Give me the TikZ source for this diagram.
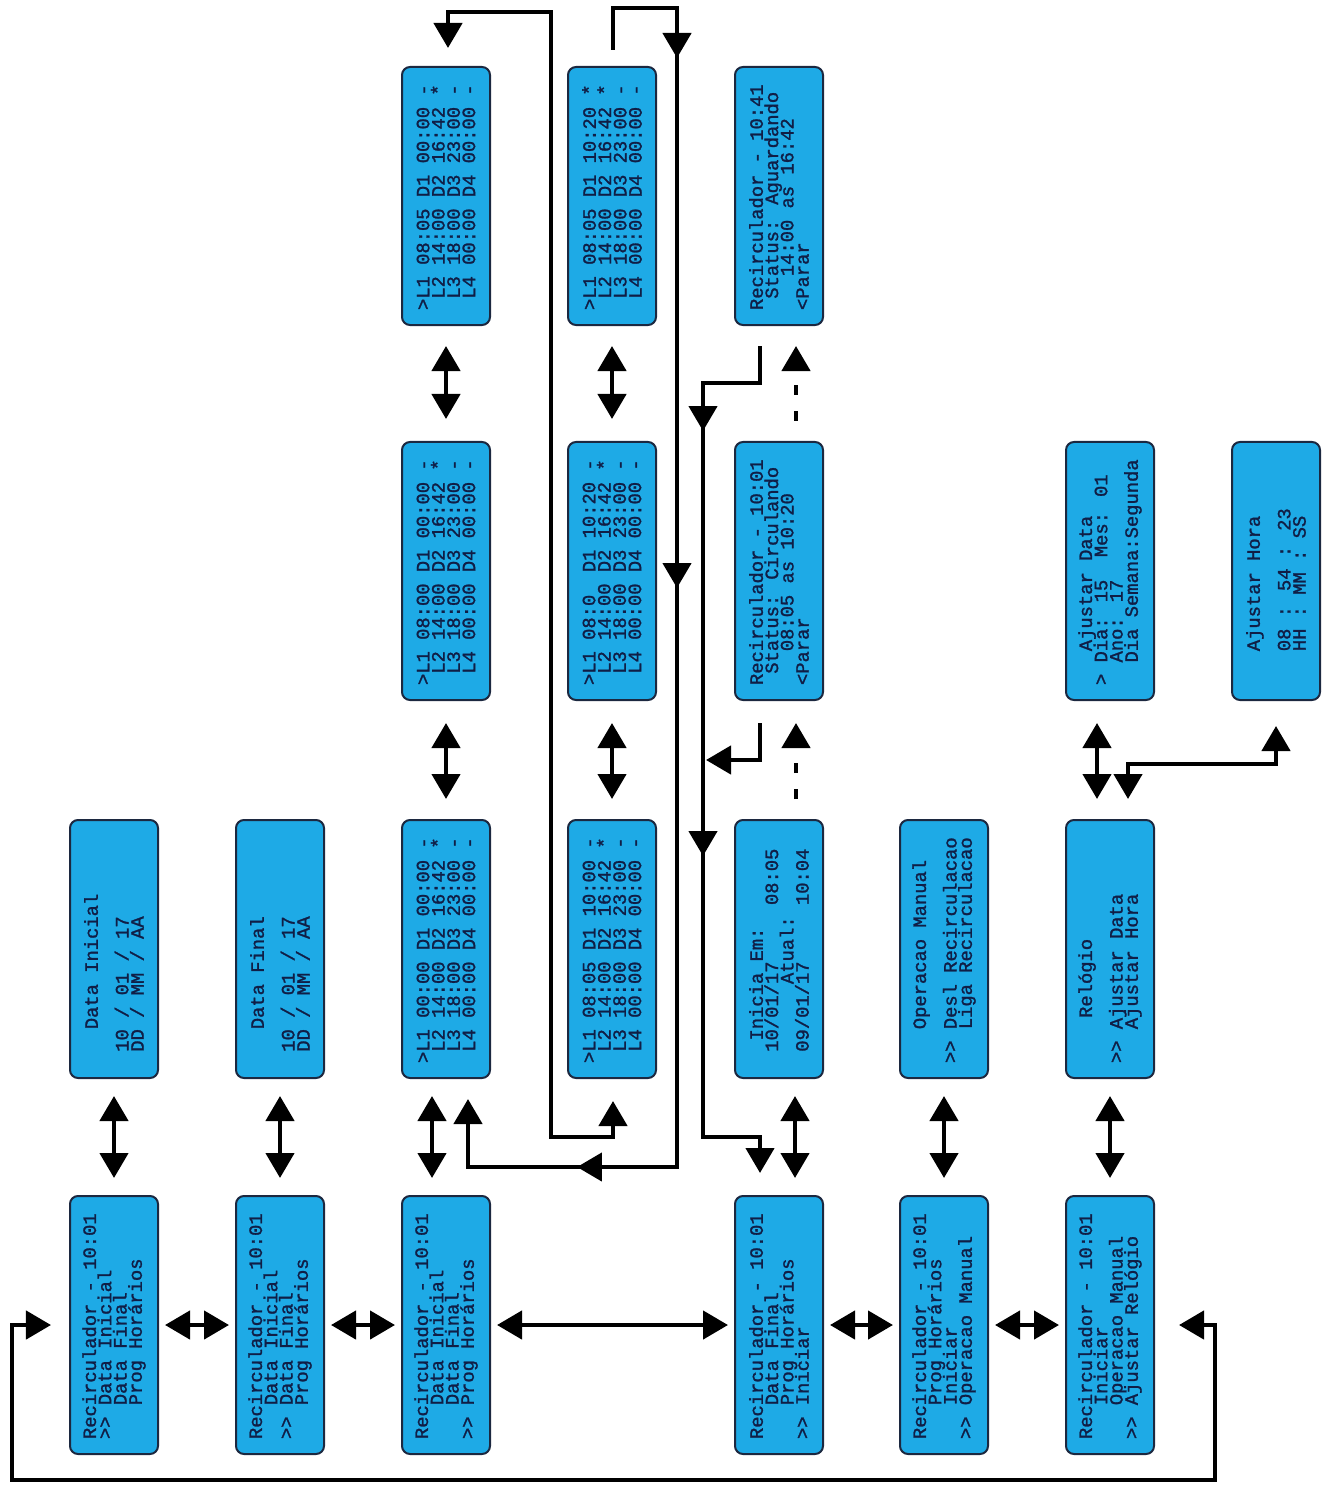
\documentclass[tikz,border=0pt]{standalone}
\usepackage{fontspec}
\usepackage{graphicx}
\usetikzlibrary{arrows.meta}
\usetikzlibrary{calc}
\usetikzlibrary{decorations.markings}

\newfontfamily\lcdfont[FakeBold=1.4]{Liberation Mono}
\definecolor{lcdfill}{RGB}{30,170,230}
\definecolor{lcdedge}{RGB}{28,40,64}
\definecolor{lcdink}{RGB}{16,30,70}
\newcommand{\lcdtext}[1]{\rotatebox{90}{\parbox{45.6mm}{\raggedright\lineskiplimit=-\maxdimen #1}}}
\tikzset{tri/.tip={Triangle[length=5mm,width=5.6mm]}}

\begin{document}
\begin{tikzpicture}[x=0.2mm, y=-0.2mm,
        lcd/.style={draw=lcdedge, fill=lcdfill, line width=0.4mm, rounded corners=1.6mm,
            minimum width=17.6mm, minimum height=51.6mm, inner sep=0pt, text=lcdink,
            font=\lcdfont\fontsize{10.7pt}{8.7pt}\selectfont},
        link/.style={line width=0.9mm, tri-tri},
        flow/.style={line width=0.9mm, -tri},
        hint/.style={flow, dash pattern=on 2mm off 3.2mm}]
    \useasboundingbox (0,0) rectangle (1329,1489);

    \node[lcd] (a1) at (114,1325) {\lcdtext{Recirculador - 10:01\\>> Data Inicial\\~~~Data Final\\~~~Prog Horários}};
    \node[lcd] (a2) at (280,1325) {\lcdtext{Recirculador - 10:01\\~~~Data Inicial\\>> Data Final\\~~~Prog Horários}};
    \node[lcd] (a3) at (446,1325) {\lcdtext{Recirculador - 10:01\\~~~Data Inicial\\~~~Data Final\\>> Prog Horários}};
    \node[lcd] (a5) at (779,1325) {\lcdtext{Recirculador - 10:01\\~~~Data Final\\~~~Prog Horários\\>> Iniciar}};
    \node[lcd] (a6) at (944,1325) {\lcdtext{Recirculador - 10:01\\~~~Prog Horários\\~~~Iniciar\\>> Operacao Manual}};
    \node[lcd] (a7) at (1110,1325) {\lcdtext{Recirculador - 10:01\\~~~Iniciar\\~~~Operacao Manual\\>> Ajustar Relógio}};

    \node[lcd] (b1) at (114,949) {\lcdtext{~~~Data Inicial\\~\\~10 / 01 / 17\\~DD / MM / AA}};
    \node[lcd] (b2) at (280,949) {\lcdtext{~~~Data Final\\~\\~10 / 01 / 17\\~DD / MM / AA}};
    \node[lcd] (b3) at (446,949) {\lcdtext{>L1 00:00 D1 00:00 -\\~L2 14:00 D2 16:42 *\\~L3 18:00 D3 23:00 -\\~L4 00:00 D4 00:00 -}};
    \node[lcd] (b4) at (612,949) {\lcdtext{>L1 08:05 D1 10:00 -\\~L2 14:00 D2 16:42 *\\~L3 18:00 D3 23:00 -\\~L4 00:00 D4 00:00 -}};
    \node[lcd] (b5) at (779,949) {\lcdtext{~~Inicia Em:\\~10/01/17~~~~~08:05\\~~~~~~~Atual:\\~09/01/17~~~~~10:04}};
    \node[lcd] (b6) at (944,949) {\lcdtext{~~~Operacao Manual\\~\\>> Desl Recirculacao\\~~~Liga Recirculacao}};
    \node[lcd] (b7) at (1110,949) {\lcdtext{~~~~Relógio\\~\\>> Ajustar Data\\~~~Ajustar Hora}};

    \node[lcd] (c3) at (446,571) {\lcdtext{>L1 08:00 D1 00:00 -\\~L2 14:00 D2 16:42 *\\~L3 18:00 D3 23:00 -\\~L4 00:00 D4 00:00 -}};
    \node[lcd] (c4) at (612,571) {\lcdtext{>L1 08:0~~D1 10:20 -\\~L2 14:00 D2 16:42 *\\~L3 18:00 D3 23:00 -\\~L4 00:00 D4 00:00 -}};
    \node[lcd] (c5) at (779,571) {\lcdtext{Recirculador - 10:01\\~Status: Circulando\\~~~08:05 as 10:20\\<Parar}};
    \node[lcd] (c7) at (1110,571) {\lcdtext{~~~Ajustar Data\\> Dia: 15~~Mes: 01\\~~Ano: 17\\~~Dia Semana:Segunda}};
    \node[lcd] (c8) at (1276,571) {\lcdtext{~~~Ajustar Hora\\~\\~~~08 : 54 : 23\\~~~HH : MM : SS}};

    \node[lcd] (d3) at (446,196) {\lcdtext{>L1 08:05 D1 00:00 -\\~L2 14:00 D2 16:42 *\\~L3 18:00 D3 23:00 -\\~L4 00:00 D4 00:00 -}};
    \node[lcd] (d4) at (612,196) {\lcdtext{>L1 08:05 D1 10:20 *\\~L2 14:00 D2 16:42 *\\~L3 18:00 D3 23:00 -\\~L4 00:00 D4 00:00 -}};
    \node[lcd] (d5) at (779,196) {\lcdtext{Recirculador - 10:41\\~Status: Aguardando\\~~~14:00 as 16:42\\<Parar}};

    \coordinate (merge) at (703,760);

    \draw[link, shorten >=1.2mm, shorten <=1.2mm] (a1) -- (a2);
    \draw[link, shorten >=1.2mm, shorten <=1.2mm] (a2) -- (a3);
    \draw[link, shorten >=1.2mm, shorten <=1.2mm] (a3) -- (a5);
    \draw[link, shorten >=1.2mm, shorten <=1.2mm] (a5) -- (a6);
    \draw[link, shorten >=1.2mm, shorten <=1.2mm] (a6) -- (a7);

    \draw[link] ($(b1.south)+(0,17)$) -- ($(a1.north)+(0,-17)$);
    \draw[link] ($(b2.south)+(0,17)$) -- ($(a2.north)+(0,-17)$);
    \draw[link] ($(b3.south)+(-14,17)$) -- ($(a3.north)+(-14,-17)$);
    \draw[link] ($(b5.south)+(16,17)$) -- ($(a5.north)+(16,-17)$);
    \draw[link] ($(b6.south)+(0,17)$) -- ($(a6.north)+(0,-17)$);
    \draw[link] ($(b7.south)+(0,17)$) -- ($(a7.north)+(0,-17)$);

    \draw[link] ($(c3.south)+(0,22)$) -- ($(b3.north)+(0,-20)$);
    \draw[link] ($(c4.south)+(0,22)$) -- ($(b4.north)+(0,-20)$);
    \draw[link] ($(d3.south)+(0,20)$) -- ($(c3.north)+(0,-22)$);
    \draw[link] ($(d4.south)+(0,20)$) -- ($(c4.north)+(0,-22)$);
    \draw[hint] ($(b5.north)+(17,-20)$) -- ($(c5.south)+(17,22)$);
    \draw[hint] ($(c5.north)+(17,-20)$) -- ($(d5.south)+(17,20)$);
    \draw[link] ($(c7.south)+(-13,22)$) -- ($(b7.north)+(-13,-20)$);
    \draw[link] ($(b7.north)+(18,-20)$) |- ($(c8.south)+(0,63)$) -- ($(c8.south)+(0,25)$);

    \draw[link] ($(d3.north)+(2,-18)$) |- (551,12) -- (551,1137) -| ($(b4.south)+(1,22)$);
    \draw[flow, postaction={decorate}, decoration={markings,
            mark=at position 31.2mm with {\arrow{tri}},
            mark=at position 137.2mm with {\arrow{tri}},
            mark=at position 273mm with {\arrow{tri}}}]
        ($(d4.north)+(1,-16)$) |- (677,8) -- (677,1167) -| ($(b3.south)+(22,20)$);
    \draw[flow, postaction={decorate}, decoration={markings,
            mark=at position 28.4mm with {\arrow{tri}},
            mark=at position 113.4mm with {\arrow{tri}}}]
        ($(d5.south)+(-19,20)$) |- (703,383) -- (703,1137) -| ($(a5.north)+(-19,-22)$);
    \draw[flow] ($(c5.south)+(-19,22)$) |- ($(merge)+(3,0)$);

    \draw[link] ($(a7.east)+(24,0)$) -| (1215,1480) -| (12,1325) -- ($(a1.west)+(-18,0)$);
\end{tikzpicture}
\end{document}
